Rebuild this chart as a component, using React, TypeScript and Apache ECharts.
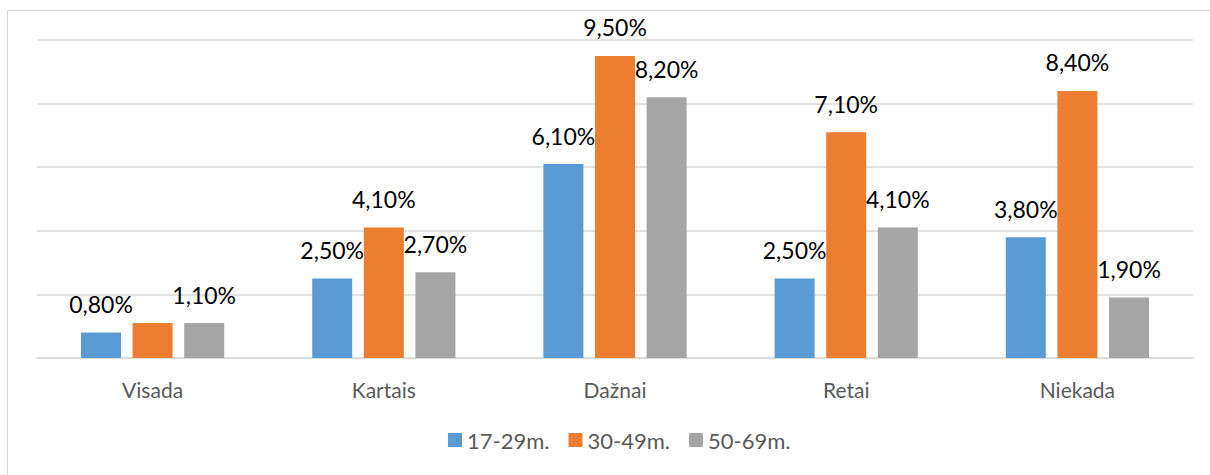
import React, { useEffect, useRef } from "react";
import * as echarts from "echarts";

const categories = ["Visada", "Kartais", "Dažnai", "Retai", "Niekada"];
const seriesNames = ["17-29m.", "30-49m.", "50-69m."];
const values1729 = [0.8, 2.5, 6.1, 2.5, 3.8];
const values3049 = [1.1, 4.1, 9.5, 7.1, 8.4];
const values5069 = [1.1, 2.7, 8.2, 4.1, 1.9];
const hiddenLabels = [[], [0], []] as number[][];
const colors = ["#5B9BD5", "#ED7D31", "#A5A5A5"];

const FONT = "Lato";

export default function App() {
  const ref = useRef<HTMLDivElement>(null);
  useEffect(() => {
    if (!ref.current) return;
    const chart = echarts.init(ref.current, undefined, { renderer: "svg" });
    const all = [values1729, values3049, values5069];
    const fmt = (v: number) => v.toFixed(2).replace(".", ",") + "%";
    chart.setOption({
      animation: false,
      backgroundColor: "#ffffff",
      textStyle: { fontFamily: FONT },
      graphic: [
        { type: "line", shape: { x1: 7.5, y1: 10.5, x2: 1210, y2: 10.5 }, style: { stroke: "#D9D9D9", lineWidth: 1 } },
        { type: "line", shape: { x1: 7.5, y1: 10.5, x2: 7.5, y2: 475 }, style: { stroke: "#D9D9D9", lineWidth: 1 } },
      ],
      grid: { left: 37, right: 17, top: 40, bottom: 117, containLabel: false },
      legend: {
        data: seriesNames,
        bottom: 19,
        left: 443,
        itemWidth: 14,
        itemHeight: 14,
        itemGap: 19,
        icon: "rect",
        textStyle: { color: "#595959", fontSize: 22, fontFamily: FONT },
      },
      xAxis: {
        type: "category",
        data: categories,
        axisLine: { lineStyle: { color: "#D9D9D9", width: 1.5 } },
        axisTick: { show: false },
        axisLabel: { color: "#595959", fontSize: 21, margin: 21, fontFamily: FONT },
      },
      yAxis: {
        type: "value",
        min: 0,
        max: 10,
        interval: 2,
        axisLabel: { show: false },
        axisLine: { show: false },
        axisTick: { show: false },
        splitLine: { lineStyle: { color: "#D9D9D9", width: 1.5 } },
      },
      series: all.map((vals, si) => ({
        name: seriesNames[si],
        type: "bar",
        barWidth: 40,
        barGap: "29%",
        itemStyle: { color: colors[si] },
        label: {
          show: true,
          position: "top",
          distance: 17,
          color: "#000000",
          fontSize: 23,
          fontFamily: FONT,
          formatter: (p: any) => fmt(p.value),
        },
        data: vals.map((v, i) =>
          hiddenLabels[si].includes(i) ? { value: v, label: { show: false } } : v
        ),
      })),
    });
    return () => chart.dispose();
  }, []);
  return <div ref={ref} style={{ position: "fixed", left: 0, top: 0, width: 1210, height: 475 }} />;
}
